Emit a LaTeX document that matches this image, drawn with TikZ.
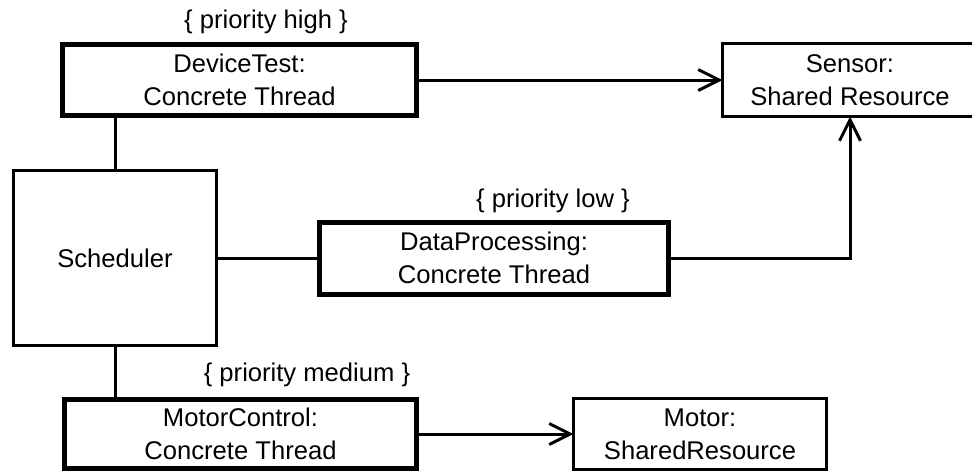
\documentclass[tikz,border=0pt]{standalone}
\usepackage{fontspec}
\setmainfont{Liberation Sans}
\usetikzlibrary{arrows.meta}

\begin{document}
\begin{tikzpicture}[x=1pt, y=-1pt, line width=3pt]
	\tikzset{classe/.style={rectangle, draw, inner sep=0pt, outer sep=0pt, align=center, font=\fontsize{25.6}{33}\selectfont},
		thread/.style={classe, line width=5pt},
		prio/.style={font=\fontsize{25.6}{30}\selectfont, inner sep=0pt},
		freccia/.style={-{Straight Barb[length=21pt, width=21pt, line width=3pt]}}}
	
	\useasboundingbox (0,0) rectangle (972,475);
	\clip (0,0) rectangle (972,475);
	
	% Thread concreti (bordo spesso)
	\node[thread, minimum width=354pt, minimum height=71pt] (dev) at (239.5,80) {DeviceTest:\\Concrete Thread};
	\node[thread, minimum width=349pt, minimum height=72pt] (data) at (494,258) {DataProcessing:\\Concrete Thread};
	\node[thread, minimum width=352pt, minimum height=69pt] (motctl) at (240.5,434) {MotorControl:\\Concrete Thread};
	
	% Risorse condivise e scheduler
	\node[classe, minimum width=255pt, minimum height=73pt] (sensor) at (850,80) {Sensor:\\Shared Resource};
	\node[classe, minimum width=253pt, minimum height=71pt] (motor) at (700,434) {Motor:\\SharedResource};
	\node[classe, minimum width=203pt, minimum height=175pt] (sched) at (115,258) {Scheduler};
	
	% Priorita
	\node[prio] (prioHigh) at (266,22) {\{ priority high \}};
	\node[prio] (prioLow) at (553,201) {\{ priority low \}};
	\node[prio] (prioMed) at (307,375) {\{ priority medium \}};
	
	\draw (sched.north) -- (sched.north |- dev.south);
	\draw (sched.east) -- (data.west);
	\draw (sched.south) -- (sched.south |- motctl.north);
	
	% Accessi alle risorse
	\draw[freccia] (dev.east) -- (sensor.west);
	\draw[freccia] (data.east) -| (sensor.south);
	\draw[freccia] (motctl.east) -- (motor.west);
\end{tikzpicture}
\end{document}
